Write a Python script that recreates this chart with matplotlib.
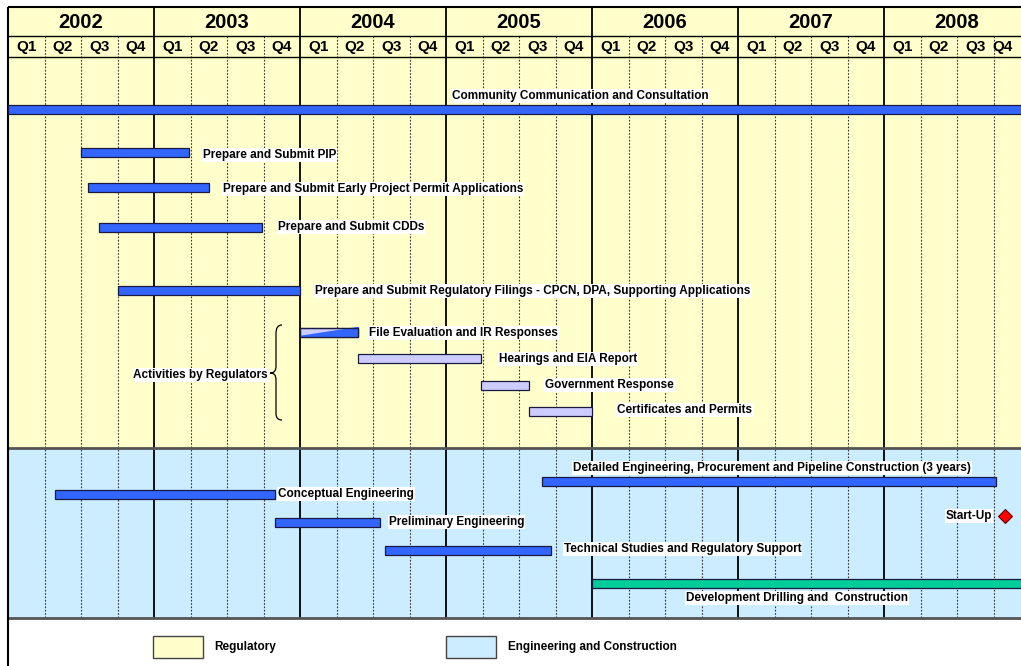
import matplotlib
matplotlib.use("Agg")
import matplotlib.pyplot as plt
from matplotlib.patches import Rectangle, PathPatch
from matplotlib.path import Path

# ---------------- data ----------------
years = [2002, 2003, 2004, 2005, 2006, 2007, 2008]
quarters = ["Q1", "Q2", "Q3", "Q4"]

reg_tasks = ["Community Communication and Consultation",
             "Prepare and Submit PIP",
             "Prepare and Submit Early Project Permit Applications",
             "Prepare and Submit CDDs",
             "Prepare and Submit Regulatory Filings - CPCN, DPA, Supporting Applications"]
reg_start = [2002.0, 2002.50, 2002.55, 2002.62, 2002.75]
reg_end = [2009.0, 2003.24, 2003.38, 2003.74, 2004.0]

regulator_group = "Activities by Regulators"
rgl_tasks = ["File Evaluation and IR Responses",
             "Hearings and EIA Report",
             "Government Response",
             "Certificates and Permits"]
rgl_start = [2004.0, 2004.40, 2005.24, 2005.57]
rgl_end = [2004.40, 2005.24, 2005.57, 2006.0]

eng_tasks = ["Detailed Engineering, Procurement and Pipeline Construction (3 years)",
             "Conceptual Engineering",
             "Preliminary Engineering",
             "Technical Studies and Regulatory Support"]
eng_start = [2005.66, 2002.32, 2003.83, 2004.58]
eng_end = [2008.77, 2003.83, 2004.55, 2005.72]

drill_task = "Development Drilling and  Construction"
drill_start = 2006.0
drill_end = 2009.0

milestone_label = "Start-Up"
milestone_date = 2008.83

legend_labels = ["Regulatory", "Engineering and Construction"]

# ---------------- style / layout ----------------
YELLOW = "#FFFFCC"
LBLUE = "#CCECFF"
BAR = "#3366FF"
LIGHT = "#CCCCFF"
GREEN = "#00CC99"
EDGE = "#1a1a40"
FONT = "Liberation Sans"

W, H = 1021, 666
PX0, PXY = 8.0, 146.0          # pixel of 2002.0, pixels per year


def bx(px):
    return years[0] + (px - PX0) / PXY


fig = plt.figure(figsize=(W / 100, H / 100), dpi=100)
ax = fig.add_axes([0, 0, 1, 1])
ax.set_xlim(bx(0), bx(W))
ax.set_ylim(H, 0)
ax.axis("off")
xend = bx(W) + 1

# rows (pixel y)
y_top, y_yr, y_q, y_split, y_bot = 7, 36, 57, 448, 618
reg_rows = [109, 152, 187, 227, 290]
rgl_rows = [332, 358, 385, 411]
eng_rows = [481, 494, 522, 550]
drill_row = 583
ms_row = 516
bar_h = 9

# backgrounds
ax.add_patch(Rectangle((years[0], y_top), xend - years[0], y_split - y_top,
                       facecolor=YELLOW, edgecolor="none", zorder=0))
ax.add_patch(Rectangle((years[0], y_split), xend - years[0], y_bot - y_split,
                       facecolor=LBLUE, edgecolor="none", zorder=0))

# grid lines
for yr in years[1:]:
    ax.vlines(yr, y_top, y_bot, color="black", lw=1.3, zorder=1)
for yr in years:
    for q in (1, 2, 3):
        ax.vlines(yr + q / 4, y_yr, y_bot, color="#333333", lw=0.8,
                  linestyles=(0, (1.5, 1.5)), zorder=1)
ax.hlines(y_top, years[0], xend, color="black", lw=1.5, zorder=2)
ax.hlines([y_yr, y_q], years[0], xend, color="black", lw=1.0, zorder=2)
ax.hlines([y_split, y_bot], years[0], xend, color="#555555", lw=2.0, zorder=2)
ax.vlines(years[0], y_top, H, color="black", lw=1.5, zorder=2)

# header text
for yr in years:
    ax.text(yr + 0.5, (y_top + y_yr) / 2 + 1, str(yr), ha="center", va="center",
            fontsize=14.5, fontweight="bold", family=FONT, zorder=3)
    for i, q in enumerate(quarters):
        cx = yr + (i + 0.5) / 4
        if cx + 0.125 > bx(W):
            cx = (yr + i / 4 + bx(W)) / 2 - 0.03
        ax.text(cx, (y_yr + y_q) / 2 + 1, q, ha="center", va="center",
                fontsize=11, fontweight="bold", family=FONT, zorder=3)

lbl = dict(fontsize=8.5, fontweight="bold", family=FONT, va="center", zorder=5,
           bbox=dict(facecolor="white", edgecolor="none", pad=0.6))

# regulatory bars
for s, e, y in zip(reg_start, reg_end, reg_rows):
    ax.barh(y, e - s, left=s, height=bar_h, color=BAR, edgecolor=EDGE, lw=0.9, zorder=4)
reg_lbl_pos = [(580, 96, "center"), (203, 155, "left"), (223, 189, "left"),
               (278, 227, "left"), (315, 291, "left")]
for t, (px, py, ha) in zip(reg_tasks, reg_lbl_pos):
    ax.text(bx(px), py, t, ha=ha, **lbl)

# regulators' activities
for k, (s, e, y) in enumerate(zip(rgl_start, rgl_end, rgl_rows)):
    ax.barh(y, e - s, left=s, height=bar_h, color=LIGHT, edgecolor=EDGE, lw=0.9, zorder=4)
    if k == 0:
        ax.fill([s, e, e], [y + bar_h / 2, y - bar_h / 2, y + bar_h / 2],
                color=BAR, zorder=4.5)
        ax.barh(y, e - s, left=s, height=bar_h, fill=False, edgecolor=EDGE, lw=0.9, zorder=4.6)
rgl_lbl_pos = [(369, 333), (499, 359), (545, 385), (617, 410)]
for t, (px, py) in zip(rgl_tasks, rgl_lbl_pos):
    ax.text(bx(px), py, t, ha="left", **lbl)

# brace
pts = [(282, 325), (278, 325), (276, 328), (276, 333),
       (276, 366), (276, 371), (274, 373), (270, 373),
       (274, 373), (276, 375), (276, 380),
       (276, 413), (276, 418), (278, 420), (282, 420)]
codes = [Path.MOVETO, Path.CURVE4, Path.CURVE4, Path.CURVE4,
         Path.LINETO, Path.CURVE4, Path.CURVE4, Path.CURVE4,
         Path.CURVE4, Path.CURVE4, Path.CURVE4,
         Path.LINETO, Path.CURVE4, Path.CURVE4, Path.CURVE4]
ax.add_patch(PathPatch(Path([(bx(px), py) for px, py in pts], codes),
                       facecolor="none", edgecolor="black", lw=0.9, zorder=4))
ax.text(bx(268), 375, regulator_group, ha="right", **lbl)

# engineering bars
for s, e, y in zip(eng_start, eng_end, eng_rows):
    ax.barh(y, e - s, left=s, height=bar_h, color=BAR, edgecolor=EDGE, lw=0.9, zorder=4)
eng_lbl_pos = [(772, 468, "center"), (278, 494, "left"), (389, 522, "left"),
               (564, 549, "left")]
for t, (px, py, ha) in zip(eng_tasks, eng_lbl_pos):
    ax.text(bx(px), py, t, ha=ha, **lbl)

ax.barh(drill_row, drill_end - drill_start, left=drill_start, height=bar_h,
        color=GREEN, edgecolor=EDGE, lw=0.9, zorder=4)
ax.text(bx(797), 598, drill_task, ha="center", **lbl)

ax.plot([milestone_date], [ms_row], marker="D", ms=7.5, color="#FF0000",
        mec="#660000", mew=0.8, zorder=6, clip_on=False)
ax.text(bx(992), ms_row, milestone_label, ha="right", **lbl)

# legend
leg_pos = [(153, 214), (446, 508)]
for (bxp, tx), lab, col in zip(leg_pos, legend_labels, [YELLOW, LBLUE]):
    ax.add_patch(Rectangle((bx(bxp), 636), 50 / PXY, 22, facecolor=col,
                           edgecolor="#444444", lw=1.0, zorder=3))
    ax.text(bx(tx), 647, lab, ha="left", va="center", fontsize=8.5,
            fontweight="bold", family=FONT, zorder=3)

fig.savefig("out.png", dpi=100)
